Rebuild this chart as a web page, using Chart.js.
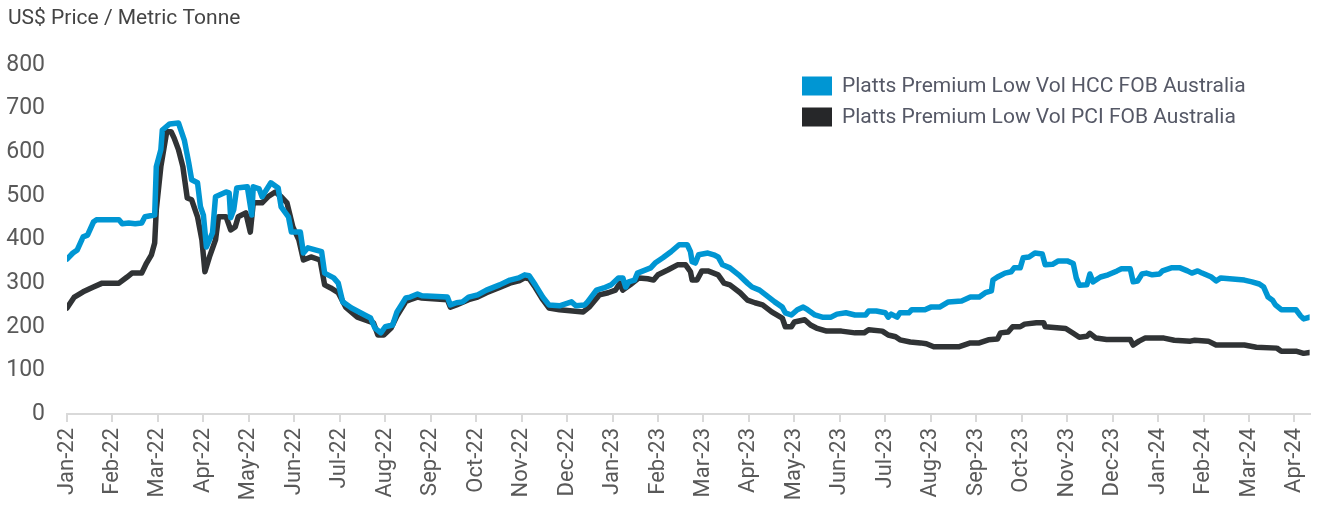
<!DOCTYPE html>
<html>
<head>
<meta charset="utf-8">
<script src="https://cdn.jsdelivr.net/npm/chart.js@4"></script>
<style>
  html, body { margin: 0; padding: 0; background: #ffffff; }
  #wrap { width: 1327px; height: 506px; position: relative; }
</style>
</head>
<body>
<div id="wrap"><canvas id="c" width="1327" height="506"></canvas></div>
<script>
// ---- DATA ----
const axisTitle = "US$ Price / Metric Tonne";
const seriesNames = ["Platts Premium Low Vol HCC FOB Australia", "Platts Premium Low Vol PCI FOB Australia"];
const monthLabels = ["Jan-22","Feb-22","Mar-22","Apr-22","May-22","Jun-22","Jul-22","Aug-22","Sep-22","Oct-22","Nov-22","Dec-22",
  "Jan-23","Feb-23","Mar-23","Apr-23","May-23","Jun-23","Jul-23","Aug-23","Sep-23","Oct-23","Nov-23","Dec-23",
  "Jan-24","Feb-24","Mar-24","Apr-24"];
const yTicks = [0,100,200,300,400,500,600,700,800];

const hccDates = ["2022-01-01","2022-01-05","2022-01-08","2022-01-12","2022-01-15","2022-01-19","2022-01-21","2022-02-05","2022-02-07","2022-02-11",
  "2022-02-15","2022-02-19","2022-02-21","2022-02-27","2022-02-28","2022-03-03","2022-03-04","2022-03-09","2022-03-15","2022-03-19",
  "2022-03-22","2022-03-24","2022-03-28","2022-03-30","2022-04-01","2022-04-03","2022-04-07","2022-04-09","2022-04-16","2022-04-18",
  "2022-04-19","2022-04-21","2022-04-23","2022-04-30","2022-05-03","2022-05-04","2022-05-08","2022-05-10","2022-05-16","2022-05-21",
  "2022-05-23","2022-05-28","2022-05-30","2022-06-05","2022-06-07","2022-06-10","2022-06-19","2022-06-21","2022-06-27","2022-06-30",
  "2022-07-03","2022-07-09","2022-07-18","2022-07-22","2022-07-25","2022-07-29","2022-08-01","2022-08-06","2022-08-09","2022-08-15",
  "2022-08-18","2022-08-23","2022-08-26","2022-09-12","2022-09-14","2022-09-18","2022-09-22","2022-09-26","2022-10-02","2022-10-08",
  "2022-10-17","2022-10-24","2022-10-30","2022-11-03","2022-11-06","2022-11-10","2022-11-15","2022-11-19","2022-11-26","2022-12-04",
  "2022-12-07","2022-12-13","2022-12-15","2022-12-21","2022-12-26","2022-12-31","2023-01-05","2023-01-08","2023-01-10","2023-01-12",
  "2023-01-16","2023-01-18","2023-01-27","2023-01-30","2023-02-04","2023-02-09","2023-02-14","2023-02-19","2023-02-21","2023-02-22",
  "2023-02-24","2023-02-26","2023-03-04","2023-03-08","2023-03-11","2023-03-14","2023-03-19","2023-03-25","2023-03-31","2023-04-03",
  "2023-04-08","2023-04-14","2023-04-18","2023-04-23","2023-04-25","2023-04-29","2023-05-03","2023-05-07","2023-05-10","2023-05-15",
  "2023-05-20","2023-05-26","2023-05-30","2023-06-05","2023-06-11","2023-06-18","2023-06-20","2023-06-25","2023-07-01","2023-07-03",
  "2023-07-05","2023-07-09","2023-07-11","2023-07-17","2023-07-19","2023-07-28","2023-08-01","2023-08-07","2023-08-13","2023-08-22",
  "2023-08-28","2023-09-03","2023-09-07","2023-09-11","2023-09-12","2023-09-15","2023-09-20","2023-09-24","2023-09-26","2023-09-30",
  "2023-10-02","2023-10-06","2023-10-10","2023-10-15","2023-10-17","2023-10-22","2023-10-26","2023-11-01","2023-11-05","2023-11-07",
  "2023-11-09","2023-11-14","2023-11-16","2023-11-18","2023-11-23","2023-11-28","2023-12-04","2023-12-07","2023-12-13","2023-12-15",
  "2023-12-18","2023-12-21","2023-12-24","2023-12-28","2024-01-02","2024-01-04","2024-01-10","2024-01-16","2024-01-21","2024-01-24",
  "2024-01-28","2024-01-31","2024-02-06","2024-02-09","2024-02-12","2024-02-27","2024-03-03","2024-03-08","2024-03-11","2024-03-14",
  "2024-03-17","2024-03-19","2024-03-23","2024-04-02","2024-04-05","2024-04-07","2024-04-11"];
const hccValues = [355,369,376,406,410,440,445,445,436,438,
  436,438,452,456,567,606,651,665,667,628,
  576,537,530,475,456,383,415,498,509,507,
  450,468,518,521,456,521,516,498,530,518,
  475,452,417,417,369,381,372,323,312,300,
  257,243,227,220,197,186,200,204,234,266,
  268,275,271,268,250,255,257,268,273,284,
  296,307,312,319,317,296,268,250,248,257,
  248,250,257,284,289,296,312,312,291,303,
  307,323,335,346,358,372,388,388,372,349,
  346,365,369,365,360,342,335,319,300,291,
  284,268,257,245,232,227,239,245,239,227,
  222,222,229,232,227,227,236,236,232,222,
  229,222,232,232,239,239,245,245,257,259,
  268,268,278,282,307,314,323,326,335,335,
  358,360,369,367,342,343,351,351,345,312,
  295,296,321,303,314,319,328,333,333,303,
  305,321,323,319,321,328,335,335,328,323,
  328,323,314,305,312,307,303,298,291,268,
  261,250,239,239,225,218,222];

const pciDates = ["2022-01-01","2022-01-06","2022-01-12","2022-01-19","2022-01-25","2022-02-05","2022-02-10","2022-02-13","2022-02-19","2022-02-22",
  "2022-02-25","2022-02-27","2022-02-28","2022-03-03","2022-03-07","2022-03-10","2022-03-12","2022-03-15","2022-03-18","2022-03-21",
  "2022-03-24","2022-03-28","2022-03-31","2022-04-02","2022-04-05","2022-04-09","2022-04-11","2022-04-16","2022-04-19","2022-04-22",
  "2022-04-24","2022-04-29","2022-05-02","2022-05-04","2022-05-10","2022-05-14","2022-05-19","2022-05-23","2022-05-27","2022-05-31",
  "2022-06-04","2022-06-07","2022-06-12","2022-06-18","2022-06-21","2022-06-25","2022-06-30","2022-07-05","2022-07-13","2022-07-24",
  "2022-07-27","2022-07-31","2022-08-05","2022-08-09","2022-08-15","2022-08-18","2022-08-23","2022-08-26","2022-09-12","2022-09-14",
  "2022-09-18","2022-09-26","2022-10-02","2022-10-08","2022-10-17","2022-10-24","2022-10-30","2022-11-03","2022-11-06","2022-11-10",
  "2022-11-15","2022-11-19","2022-11-26","2022-12-12","2022-12-16","2022-12-23","2022-12-29","2023-01-03","2023-01-06","2023-01-08",
  "2023-01-13","2023-01-19","2023-01-25","2023-01-29","2023-02-01","2023-02-07","2023-02-13","2023-02-18","2023-02-21","2023-02-22",
  "2023-02-25","2023-02-28","2023-03-04","2023-03-11","2023-03-15","2023-03-19","2023-03-26","2023-03-31","2023-04-05","2023-04-10",
  "2023-04-16","2023-04-23","2023-04-25","2023-04-29","2023-05-01","2023-05-08","2023-05-12","2023-05-16","2023-05-23","2023-06-02",
  "2023-06-11","2023-06-17","2023-06-20","2023-06-29","2023-07-03","2023-07-08","2023-07-11","2023-07-18","2023-07-25","2023-07-29",
  "2023-08-03","2023-08-20","2023-08-28","2023-09-03","2023-09-09","2023-09-15","2023-09-17","2023-09-22","2023-09-25","2023-09-30",
  "2023-10-03","2023-10-11","2023-10-16","2023-10-17","2023-10-31","2023-11-05","2023-11-09","2023-11-14","2023-11-16","2023-11-20",
  "2023-11-27","2023-12-13","2023-12-15","2023-12-19","2023-12-23","2024-01-05","2024-01-12","2024-01-23","2024-01-26","2024-02-04",
  "2024-02-09","2024-02-27","2024-03-06","2024-03-20","2024-03-23","2024-04-02","2024-04-07","2024-04-11"];
const pciValues = [243,268,280,291,300,300,314,323,323,346,
  365,392,468,567,647,647,633,606,567,495,
  491,452,399,326,360,399,452,452,422,429,
  452,461,417,484,484,498,509,498,484,429,
  399,353,360,353,296,289,278,245,222,209,
  181,181,197,225,258,262,268,266,262,245,
  250,262,268,278,290,300,305,312,310,290,
  262,243,239,234,245,273,278,284,300,284,
  296,312,310,307,319,330,342,342,326,307,
  307,328,328,319,300,296,278,261,255,250,
  234,220,200,200,211,216,204,197,190,190,
  186,186,193,190,181,177,170,165,163,161,
  154,154,163,163,170,172,186,188,200,200,
  206,209,209,200,196,185,176,178,185,174,
  171,171,158,167,174,174,169,167,169,167,
  158,158,153,151,144,144,139,141];

// ---- helpers ----
function monthPos(d) {
  const p = d.split('-').map(Number);
  const dim = new Date(p[0], p[1], 0).getDate();
  return (p[0] - 2022) * 12 + (p[1] - 1) + (p[2] - 1) / dim;
}
function toPoints(dates, vals) { return dates.map((d, i) => ({ x: monthPos(d), y: vals[i] })); }

const seriesColors = ['#0096d3', '#303335'];
const legendColors = ['#0096d3', '#262729'];
const tickColor = '#595959';
const fontFamily = 'Roboto, "Liberation Sans", sans-serif';
const lastPos = Math.max(monthPos(hccDates[hccDates.length - 1]), monthPos(pciDates[pciDates.length - 1]));

const overlayPlugin = {
  id: 'overlay',
  afterDraw(chart) {
    const ctx = chart.ctx;
    ctx.save();
    ctx.fillStyle = '#444444';
    ctx.font = '21px ' + fontFamily;
    ctx.textBaseline = 'middle';
    ctx.textAlign = 'left';
    ctx.fillText(axisTitle, 8, 19);
    const lx = 802, ly = 86, gap = 31;
    ctx.font = '21px ' + fontFamily;
    seriesNames.forEach((name, i) => {
      ctx.fillStyle = legendColors[i];
      ctx.fillRect(lx, ly + i * gap - 9.5, 30, 19);
      ctx.fillStyle = '#555866';
      ctx.fillText(name, lx + 40, ly + i * gap + 1);
    });
    ctx.restore();
  }
};

new Chart(document.getElementById('c'), {
  type: 'line',
  data: {
    datasets: [
      { label: seriesNames[0], data: toPoints(hccDates, hccValues), borderColor: seriesColors[0], backgroundColor: seriesColors[0],
        borderWidth: 5.5, pointRadius: 0, tension: 0, borderJoinStyle: 'round', borderCapStyle: 'round' },
      { label: seriesNames[1], data: toPoints(pciDates, pciValues), borderColor: seriesColors[1], backgroundColor: seriesColors[1],
        borderWidth: 5.5, pointRadius: 0, tension: 0, borderJoinStyle: 'round', borderCapStyle: 'round' }
    ]
  },
  options: {
    responsive: false,
    animation: false,
    devicePixelRatio: 1,
    layout: { padding: { top: 65, left: 0, right: 9, bottom: 0 } },
    plugins: { legend: { display: false }, title: { display: false }, tooltip: { enabled: false } },
    scales: {
      x: {
        type: 'linear', min: 0, max: lastPos,
        afterBuildTicks: (s) => { s.ticks = monthLabels.map((l, i) => ({ value: i })); },
        afterFit: (s) => { s.height = 92; },
        grid: { display: true, drawOnChartArea: false, drawTicks: true, tickLength: 8, color: '#d9d9d9', lineWidth: 2 },
        border: { display: true, color: '#d9d9d9', width: 2 },
        ticks: { autoSkip: false, minRotation: 90, maxRotation: 90, padding: 6, color: tickColor,
          font: { family: fontFamily, size: 22 }, callback: (v) => monthLabels[v] }
      },
      y: {
        min: yTicks[0], max: yTicks[yTicks.length - 1],
        afterBuildTicks: (s) => { s.ticks = yTicks.map(v => ({ value: v })); },
        afterFit: (s) => { s.width = 67; },
        grid: { display: false, drawTicks: false },
        border: { display: false },
        ticks: { padding: 22, color: tickColor, font: { family: fontFamily, size: 23 } }
      }
    }
  },
  plugins: [overlayPlugin]
});
</script>
</body>
</html>
